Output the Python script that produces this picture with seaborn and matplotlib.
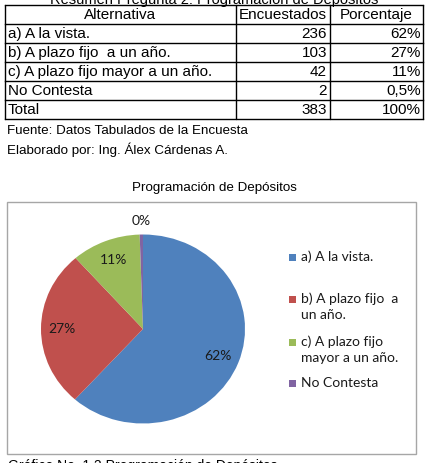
import matplotlib
matplotlib.use("Agg")
import matplotlib.pyplot as plt
from matplotlib.patches import Rectangle
import numpy as np
import seaborn as sns

# ---- data ----
table_title = "Resumen Pregunta 2: Programación de Depósitos"
headers = ["Alternativa", "Encuestados", "Porcentaje"]
alternatives = ["a) A la vista.", "b) A plazo fijo  a un año.",
                "c) A plazo fijo mayor a un año.", "No Contesta", "Total"]
counts = [236, 103, 42, 2, 383]
percents = ["62%", "27%", "11%", "0,5%", "100%"]
source_lines = ["Fuente: Datos Tabulados de la Encuesta",
                "Elaborado por: Ing. Álex Cárdenas A."]
chart_title = "Programación de Depósitos"
pie_values = [236, 103, 42, 2]
pie_labels = ["62%", "27%", "11%", "0%"]
legend_labels = ["a) A la vista.", "b) A plazo fijo  a\nun año.",
                 "c) A plazo fijo\nmayor a un año.", "No Contesta"]
caption = "Gráfico No. 1.2 Programación de Depósitos"

sns.set_style("white")
colors = sns.color_palette(["#4F81BD", "#C0504D", "#9BBB59", "#8064A2"])

W, H = 428, 463
fig = plt.figure(figsize=(W / 100, H / 100), dpi=100)

# pixel-coordinate overlay axes
bg = fig.add_axes([0, 0, 1, 1])
bg.set_xlim(0, W)
bg.set_ylim(H, 0)
bg.axis("off")

tfont = dict(family=["Liberation Sans", "DejaVu Sans"], color="black")

# table title (partially cropped at top, as in the source)
bg.text(214, 4, table_title, ha="center", va="baseline", fontsize=10.5, **tfont)

# table grid
x_cols = [5, 236, 330, 423]
y_top, row_h = 5, 19
n_rows = len(alternatives) + 1
for i in range(n_rows + 1):
    y = y_top + i * row_h
    bg.plot([x_cols[0], x_cols[-1]], [y, y], color="black", lw=1, solid_capstyle="projecting")
for x in x_cols:
    bg.plot([x, x], [y_top, y_top + n_rows * row_h], color="black", lw=1)

# header
for j, h in enumerate(headers):
    xc = (x_cols[j] + x_cols[j + 1]) / 2
    bg.text(xc, y_top + row_h / 2 + 0.5, h, ha="center", va="center", fontsize=11, **tfont)
# rows
for i, (alt, c, p) in enumerate(zip(alternatives, counts, percents)):
    yc = y_top + (i + 1.5) * row_h + 0.5
    bg.text(x_cols[0] + 3, yc, alt, ha="left", va="center", fontsize=11, **tfont)
    bg.text(x_cols[2] - 3, yc, str(c), ha="right", va="center", fontsize=11, **tfont)
    bg.text(x_cols[3] - 2, yc, p, ha="right", va="center", fontsize=11, **tfont)

# source lines
for k, s in enumerate(source_lines):
    bg.text(7, 131 + k * 19, s, ha="left", va="center", fontsize=9.6, **tfont)

# chart title
bg.text(214, 188, chart_title, ha="center", va="center", fontsize=9.6, **tfont)

# chart border
bg.add_patch(Rectangle((7, 202), 409, 252, fill=False, edgecolor="#A6A6A6", lw=1))

# caption (cropped at bottom, as in the source)
bg.text(8, 459, caption, ha="left", va="top", fontsize=10, **tfont)

# ---- pie ----
cx, cy, rx, ry = 143, 329, 102, 94.5
lim = 1.25
aw, ah = 2 * lim * rx, 2 * lim * ry
pax = fig.add_axes([(cx - aw / 2) / W, (H - (cy + ah / 2)) / H, aw / W, ah / H])
wedges, _ = pax.pie(pie_values, colors=colors, startangle=90, counterclock=False,
                    wedgeprops=dict(linewidth=0))
pax.set_aspect("auto")
pax.set_xlim(-lim, lim)
pax.set_ylim(-lim, lim)
pax.axis("off")

lfont = dict(family=["Lato", "DejaVu Sans"], color="#1a1a1a", fontsize=10)
dists = [0.79, 0.79, 0.79, 1.14]
for w, lab, d in zip(wedges, pie_labels, dists):
    ang = np.deg2rad((w.theta1 + w.theta2) / 2)
    pax.text(d * np.cos(ang), d * np.sin(ang), lab, ha="center", va="center", **lfont)

# legend (manual placement, Excel-style)
leg_y = [257, 307, 350, 383]
for w, lab, y in zip(wedges, legend_labels, leg_y):
    nlines = lab.count("\n") + 1
    first_y = y - (nlines - 1) * 8
    bg.add_patch(Rectangle((289, first_y - 3.5), 7, 7, facecolor=w.get_facecolor(), edgecolor="none"))
    bg.text(301, y, lab, ha="left", va="center", linespacing=1.4, **lfont)

fig.savefig("out.png", dpi=100)
